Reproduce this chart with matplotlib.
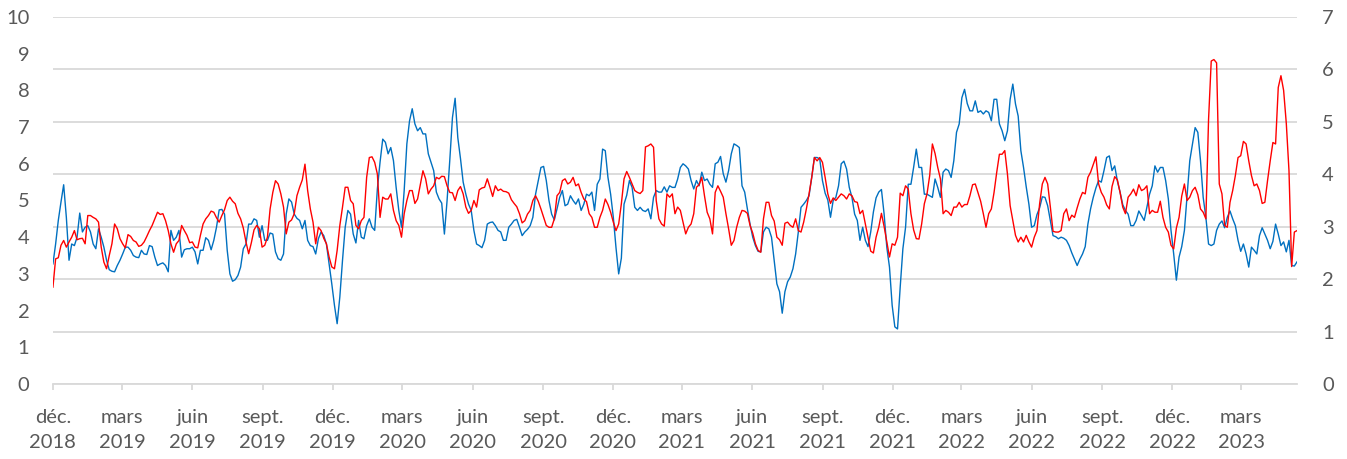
import matplotlib
matplotlib.use("Agg")
import matplotlib.pyplot as plt
import pandas as pd

plt.rcParams['font.family'] = ['Lato', 'DejaVu Sans']

start_date = "2018-12-01"
step = "84h"   # readings every half week

# red series (left axis, 0-10)
red_vals = [
    2.64, 3.41, 3.44, 3.78, 3.91, 3.73, 3.87, 4.00, 4.18, 3.93,
    3.96, 3.97, 3.82, 4.59, 4.59, 4.54, 4.50, 4.41, 3.73, 3.32,
    3.14, 3.50, 3.82, 4.36, 4.23, 3.96, 3.82, 3.71, 4.07, 4.02,
    3.91, 3.87, 3.75, 3.78, 3.87, 4.02, 4.18, 4.32, 4.50, 4.68,
    4.62, 4.64, 4.45, 4.18, 3.82, 3.59, 3.82, 3.91, 4.32, 4.18,
    4.05, 3.85, 3.87, 3.73, 3.71, 4.05, 4.36, 4.50, 4.59, 4.71,
    4.68, 4.53, 4.41, 4.59, 4.75, 5.00, 5.09, 4.98, 4.91, 4.65,
    4.50, 4.25, 3.87, 3.55, 3.85, 4.20, 4.32, 4.23, 3.73, 3.78,
    4.00, 4.77, 5.22, 5.54, 5.45, 5.18, 4.82, 4.09, 4.41, 4.47,
    4.64, 5.13, 5.36, 5.56, 5.99, 5.27, 4.77, 4.41, 3.82, 4.27,
    4.18, 3.97, 3.82, 3.46, 3.19, 3.14, 3.64, 4.32, 4.82, 5.36,
    5.36, 5.00, 4.91, 4.32, 4.23, 4.45, 4.54, 5.63, 6.17, 6.19,
    6.04, 5.72, 4.54, 5.09, 5.04, 5.04, 5.18, 4.73, 4.45, 4.32,
    4.00, 4.64, 5.00, 5.27, 5.27, 4.92, 5.04, 5.43, 5.81, 5.59,
    5.18, 5.31, 5.40, 5.63, 5.59, 5.66, 5.65, 5.40, 5.22, 5.21,
    5.00, 5.27, 5.38, 5.18, 4.82, 4.65, 4.73, 5.00, 4.82, 5.29,
    5.34, 5.36, 5.59, 5.36, 5.11, 5.40, 5.27, 5.31, 5.25, 5.24,
    5.20, 5.02, 4.92, 4.83, 4.64, 4.39, 4.45, 4.63, 4.73, 5.00,
    5.13, 4.98, 4.77, 4.54, 4.32, 4.27, 4.27, 4.50, 5.13, 5.22,
    5.54, 5.59, 5.45, 5.50, 5.63, 5.40, 5.45, 5.22, 5.04, 4.97,
    4.64, 4.54, 4.27, 4.27, 4.54, 4.73, 5.04, 4.89, 4.68, 4.41,
    4.18, 4.36, 4.91, 5.59, 5.79, 5.63, 5.45, 5.27, 5.22, 5.19,
    5.27, 6.46, 6.49, 6.54, 6.45, 5.00, 4.50, 4.36, 4.30, 5.18,
    5.09, 5.18, 4.64, 4.82, 4.73, 4.41, 4.09, 4.27, 4.36, 4.64,
    5.36, 5.43, 5.63, 5.13, 4.68, 4.50, 4.09, 5.22, 5.40, 5.25,
    5.09, 4.64, 4.23, 3.78, 3.91, 4.27, 4.54, 4.73, 4.71, 4.65,
    4.32, 4.11, 3.82, 3.64, 3.59, 4.50, 4.95, 4.95, 4.59, 4.44,
    4.00, 3.93, 3.78, 4.38, 4.41, 4.32, 4.27, 4.50, 4.18, 4.14,
    4.41, 4.77, 5.18, 5.63, 6.17, 6.08, 6.17, 6.04, 5.63, 5.18,
    4.92, 5.07, 5.00, 5.09, 5.18, 5.13, 5.04, 5.18, 5.13, 4.97,
    4.95, 4.64, 4.73, 4.36, 4.00, 3.62, 3.57, 4.00, 4.27, 4.65,
    4.29, 3.87, 3.46, 3.82, 3.78, 4.00, 5.20, 5.13, 5.40, 5.31,
    4.64, 4.20, 3.96, 3.95, 4.36, 4.91, 5.18, 5.68, 6.54, 6.28,
    5.90, 5.59, 4.64, 4.73, 4.68, 4.59, 4.82, 4.82, 4.95, 4.82,
    4.89, 4.89, 5.13, 5.43, 5.45, 5.22, 4.98, 4.64, 4.27, 4.64,
    4.77, 5.22, 5.77, 6.26, 6.26, 6.36, 5.72, 4.86, 4.45, 4.05,
    3.87, 4.00, 3.87, 4.05, 3.87, 3.73, 4.00, 4.18, 4.91, 5.45,
    5.63, 5.45, 4.82, 4.16, 4.14, 4.14, 4.18, 4.64, 4.77, 4.45,
    4.60, 4.54, 4.80, 5.04, 5.22, 5.18, 5.63, 5.77, 5.98, 6.19,
    5.45, 5.22, 5.09, 4.88, 4.77, 5.38, 5.65, 5.56, 5.22, 4.82,
    4.64, 5.09, 5.18, 5.31, 5.13, 5.43, 5.27, 5.31, 5.40, 4.64,
    4.73, 4.68, 4.68, 4.98, 4.54, 4.27, 4.14, 3.78, 3.68, 4.25,
    4.54, 5.12, 5.45, 5.00, 5.09, 5.27, 5.36, 5.16, 4.77, 4.68,
    4.50, 7.20, 8.80, 8.84, 8.75, 5.45, 5.18, 4.32, 4.27, 4.95,
    5.27, 5.68, 6.17, 6.22, 6.61, 6.54, 6.08, 5.68, 5.40, 5.45,
    5.27, 4.92, 4.95, 5.54, 6.08, 6.58, 6.54, 8.08, 8.40, 8.00,
    7.10, 5.81, 3.20, 4.14, 4.18,
]

# blue series (right axis, 0-7)
blue_vals = [
    2.29, 2.67, 3.12, 3.47, 3.80, 3.18, 2.36, 2.67, 2.64, 2.80,
    3.26, 2.90, 2.99, 3.02, 2.90, 2.67, 2.58, 2.96, 2.80, 2.61,
    2.36, 2.18, 2.15, 2.14, 2.26, 2.36, 2.48, 2.61, 2.61, 2.55,
    2.45, 2.42, 2.41, 2.55, 2.48, 2.47, 2.64, 2.62, 2.42, 2.26,
    2.29, 2.31, 2.26, 2.14, 2.93, 2.74, 2.80, 2.93, 2.42, 2.56,
    2.58, 2.58, 2.61, 2.52, 2.29, 2.55, 2.55, 2.79, 2.74, 2.56,
    2.74, 2.99, 3.32, 3.33, 3.24, 2.55, 2.10, 1.96, 1.99, 2.07,
    2.23, 2.58, 2.67, 3.05, 3.05, 3.15, 3.12, 2.80, 3.02, 2.74,
    2.74, 2.88, 2.86, 2.52, 2.39, 2.36, 2.48, 3.24, 3.53, 3.47,
    3.24, 3.16, 3.12, 2.96, 3.12, 2.74, 2.64, 2.62, 2.48, 2.77,
    2.90, 2.83, 2.67, 2.29, 1.91, 1.50, 1.15, 1.66, 2.36, 2.99,
    3.31, 3.24, 2.86, 2.69, 3.12, 2.80, 2.77, 3.02, 3.15, 2.99,
    2.93, 3.72, 4.23, 4.67, 4.61, 4.39, 4.51, 4.26, 3.75, 3.31,
    2.99, 3.69, 4.58, 5.02, 5.25, 4.96, 4.83, 4.89, 4.77, 4.77,
    4.39, 4.23, 4.07, 3.66, 3.53, 3.45, 2.86, 3.50, 4.26, 5.08,
    5.45, 4.70, 4.30, 3.85, 3.62, 3.43, 3.31, 2.93, 2.67, 2.64,
    2.60, 2.74, 3.05, 3.08, 3.09, 3.02, 2.93, 2.90, 2.74, 2.74,
    2.99, 3.05, 3.12, 3.14, 2.99, 2.83, 2.90, 2.95, 3.02, 3.18,
    3.62, 3.88, 4.13, 4.15, 3.88, 3.50, 3.24, 3.13, 3.34, 3.56,
    3.69, 3.40, 3.43, 3.59, 3.50, 3.43, 3.53, 3.31, 3.43, 3.62,
    3.59, 3.66, 3.31, 3.81, 3.91, 4.48, 4.45, 3.94, 3.62, 3.18,
    2.60, 2.10, 2.40, 3.43, 3.60, 3.88, 3.75, 3.37, 3.31, 3.37,
    3.31, 3.29, 3.34, 3.15, 3.56, 3.69, 3.66, 3.66, 3.76, 3.66,
    3.78, 3.75, 3.75, 3.91, 4.13, 4.20, 4.16, 4.10, 3.88, 3.72,
    3.88, 3.78, 4.04, 3.88, 3.91, 3.81, 3.75, 4.20, 4.23, 4.34,
    4.01, 3.85, 4.07, 4.39, 4.58, 4.55, 4.51, 3.78, 3.66, 3.34,
    3.05, 2.80, 2.64, 2.53, 2.52, 2.90, 2.99, 2.96, 2.80, 2.36,
    1.91, 1.76, 1.35, 1.76, 1.95, 2.04, 2.20, 2.48, 2.90, 3.37,
    3.43, 3.50, 3.59, 3.94, 4.32, 4.32, 4.29, 3.88, 3.64, 3.51,
    3.18, 3.50, 3.56, 3.78, 4.20, 4.25, 4.10, 3.75, 3.56, 3.24,
    3.12, 2.74, 2.99, 2.74, 2.62, 2.90, 3.28, 3.55, 3.66, 3.71,
    3.24, 2.61, 2.23, 1.50, 1.09, 1.05, 1.85, 2.58, 2.99, 3.81,
    3.81, 4.13, 4.48, 4.13, 4.13, 3.62, 3.62, 3.59, 3.56, 3.91,
    3.75, 3.56, 4.04, 4.10, 4.07, 3.94, 4.26, 4.80, 4.96, 5.46,
    5.62, 5.35, 5.21, 5.21, 5.40, 5.18, 5.21, 5.15, 5.21, 5.18,
    5.02, 5.43, 5.43, 4.96, 4.83, 4.64, 4.83, 5.43, 5.72, 5.34,
    5.11, 4.45, 4.13, 3.76, 3.43, 2.99, 3.02, 3.23, 3.36, 3.57,
    3.56, 3.40, 3.12, 2.83, 2.81, 2.77, 2.80, 2.78, 2.74, 2.64,
    2.50, 2.38, 2.26, 2.38, 2.48, 2.62, 3.05, 3.34, 3.56, 3.74,
    3.88, 3.85, 4.07, 4.32, 4.35, 4.07, 4.16, 3.87, 3.66, 3.42,
    3.31, 3.24, 3.02, 3.02, 3.12, 3.30, 3.21, 3.12, 3.37, 3.62,
    3.78, 4.16, 4.04, 4.13, 4.13, 3.88, 3.53, 2.93, 2.48, 1.98,
    2.42, 2.62, 2.93, 3.59, 4.26, 4.58, 4.89, 4.80, 4.26, 3.56,
    3.18, 2.67, 2.64, 2.67, 2.93, 3.05, 3.11, 2.98, 3.18, 3.30,
    3.15, 3.02, 2.74, 2.53, 2.67, 2.48, 2.23, 2.61, 2.55, 2.48,
    2.83, 2.98, 2.86, 2.74, 2.58, 2.72, 3.05, 2.86, 2.64, 2.71,
    2.52, 2.74, 2.26, 2.25, 2.33,
]

tick_dates = ["2018-12-01", "2019-03-01", "2019-06-01", "2019-09-01",
              "2019-12-01", "2020-03-01", "2020-06-01", "2020-09-01",
              "2020-12-01", "2021-03-01", "2021-06-01", "2021-09-01",
              "2021-12-01", "2022-03-01", "2022-06-01", "2022-09-01",
              "2022-12-01", "2023-03-01"]
tick_labels = ["déc.\n2018", "mars\n2019", "juin\n2019", "sept.\n2019",
               "déc.\n2019", "mars\n2020", "juin\n2020", "sept.\n2020",
               "déc.\n2020", "mars\n2021", "juin\n2021", "sept.\n2021",
               "déc.\n2021", "mars\n2022", "juin\n2022", "sept.\n2022",
               "déc.\n2022", "mars\n2023"]

left_ticks = list(range(0, 11))
right_ticks = list(range(0, 8))

dates = pd.date_range(start_date, periods=len(red_vals), freq=step)

text_color = "#595959"
grid_color = "#d9d9d9"
fs = 14.5

fig = plt.figure(figsize=(13.47, 4.59), dpi=100)
ax = fig.add_axes([0.0393, 0.1634, 0.9236, 0.7996])
ax2 = ax.twinx()

# right axis: gridlines + blue (drawn below)
ax2.plot(dates, blue_vals, color="#0070c0", linewidth=1.0)
ax2.set_ylim(0, 7)
ax2.set_yticks(right_ticks)
ax2.grid(axis="y", color=grid_color, linewidth=1.3)
ax2.tick_params(axis="y", length=0, pad=18, labelsize=fs, labelcolor=text_color)
for s in ax2.spines.values():
    s.set_visible(False)

# left axis: red (drawn on top)
ax.set_zorder(ax2.get_zorder() + 1)
ax.patch.set_visible(False)
ax.plot(dates, red_vals, color="#ff0000", linewidth=1.0)
ax.set_ylim(0, 10)
ax.set_yticks(left_ticks)
ax.tick_params(axis="y", length=0, pad=17, labelsize=fs, labelcolor=text_color)
for side in ["left", "right", "top"]:
    ax.spines[side].set_visible(False)
ax.spines["bottom"].set_color(grid_color)
ax.spines["bottom"].set_linewidth(1.3)

ax.set_xlim(dates[0], dates[-1])
ax.set_xticks(pd.to_datetime(tick_dates))
ax.set_xticklabels(tick_labels, linespacing=1.55)
ax.tick_params(axis="x", length=4, width=1.3, color=grid_color, pad=14,
               labelsize=fs, labelcolor=text_color)

fig.savefig("out.png", dpi=100)
